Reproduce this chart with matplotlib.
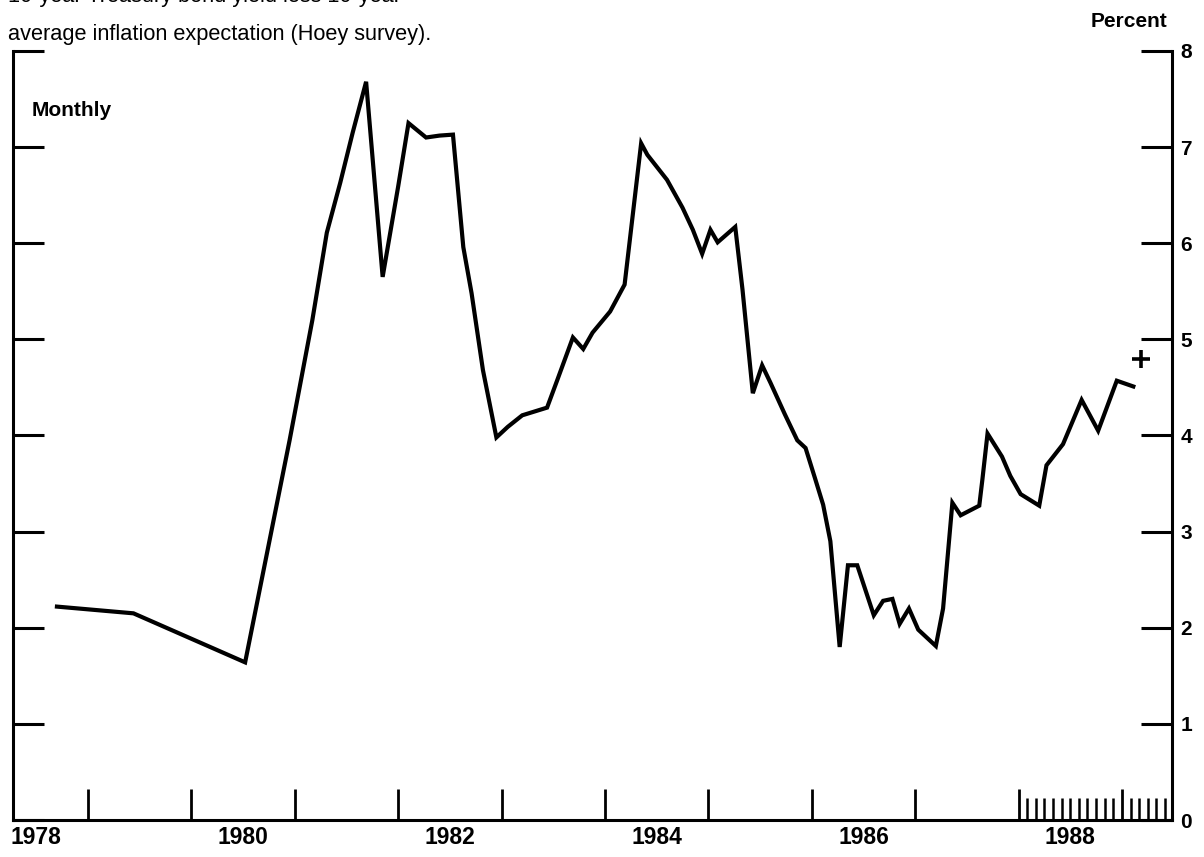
import matplotlib
matplotlib.use("Agg")
import matplotlib.pyplot as plt
from matplotlib.ticker import FixedLocator

plt.rcParams["font.family"] = ["Liberation Sans", "DejaVu Sans"]

years = [1978.70, 1979.44, 1980.52, 1980.95, 1981.17, 1981.31, 1981.44, 1981.56,
         1981.69, 1981.85, 1982.00, 1982.10, 1982.27, 1982.40, 1982.53, 1982.63,
         1982.71, 1982.82, 1982.95, 1983.06, 1983.20, 1983.32, 1983.44, 1983.54,
         1983.69, 1983.79, 1983.88, 1984.05, 1984.19, 1984.35, 1984.41, 1984.60,
         1984.75, 1984.85, 1984.94, 1985.02, 1985.09, 1985.26, 1985.33, 1985.43,
         1985.52, 1985.60, 1985.74, 1985.86, 1985.94, 1986.03, 1986.11, 1986.18,
         1986.27, 1986.35, 1986.44, 1986.60, 1986.69, 1986.78, 1986.85, 1986.94,
         1987.03, 1987.20, 1987.27, 1987.36, 1987.44, 1987.62, 1987.65, 1987.70,
         1987.84, 1987.92, 1988.02, 1988.20, 1988.27, 1988.43, 1988.61, 1988.77,
         1988.95, 1989.11]
spread = [2.22, 2.15, 1.64, 3.95, 5.20, 6.11, 6.63, 7.15,
          7.68, 5.65, 6.59, 7.25, 7.10, 7.12, 7.13, 5.96,
          5.48, 4.68, 3.98, 4.09, 4.21, 4.25, 4.29, 4.58,
          5.02, 4.90, 5.07, 5.29, 5.57, 7.04, 6.92, 6.66,
          6.37, 6.14, 5.89, 6.14, 6.01, 6.17, 5.52, 4.44,
          4.73, 4.55, 4.22, 3.95, 3.87, 3.56, 3.28, 2.90,
          1.80, 2.65, 2.65, 2.13, 2.28, 2.30, 2.04, 2.20,
          1.98, 1.81, 2.20, 3.30, 3.17, 3.27, 3.54, 4.02,
          3.78, 3.58, 3.39, 3.27, 3.69, 3.91, 4.37, 4.05,
          4.57, 4.51]

latest_year = 1989.18
latest_value = 4.80

year_labels = ["1978", "1980", "1982", "1984", "1986", "1988"]
year_ticks = list(range(1979, 1990))
month_ticks = [1988 + m / 12 for m in range(1, 18)]
pct_ticks = list(range(0, 9))

fig = plt.figure(figsize=(12.04, 8.57), dpi=100)
ax = fig.add_axes([13 / 1204, 37 / 857, 1159 / 1204, 769 / 857])

ax.plot(years, spread, color="black", lw=3.0, solid_joinstyle="miter")
ax.plot([latest_year], [latest_value], marker="+", ms=13, mew=2.6, color="black")

ax.set_xlim(1978.275, 1989.484)
ax.set_ylim(0, 8)

ax.spines["top"].set_visible(False)
for s in ["left", "right", "bottom"]:
    ax.spines[s].set_linewidth(2.2)

ax.set_xticks(year_ticks)
ax.set_xticklabels([])
ax.xaxis.set_minor_locator(FixedLocator(month_ticks))
ax.tick_params(axis="x", which="major", direction="in", length=22, width=2.0)
ax.tick_params(axis="x", which="minor", direction="in", length=16, width=1.8)

ax.set_yticks(pct_ticks)
ax.set_yticklabels([str(v) for v in pct_ticks])
ax.yaxis.set_minor_locator(FixedLocator([8]))
ax.tick_params(axis="y", which="both", direction="in", left=True, right=True,
               labelleft=False, labelright=True, pad=6, labelsize=15, width=2.2)
ax.tick_params(axis="y", which="major", length=22)
ax.tick_params(axis="y", which="minor", length=28, labelright=False)
for lbl in ax.get_yticklabels():
    lbl.set_fontweight("bold")

for lab in year_labels:
    ax.text(int(lab) + 0.5, -0.008, lab, transform=ax.get_xaxis_transform(),
            ha="center", va="top", fontsize=16.5, fontweight="bold")

ax.text(19 / 1159, 0.915, "Monthly", transform=ax.transAxes,
        fontsize=15, fontweight="bold", va="baseline")

fig.text(1091 / 1204, 1 - 27 / 857, "Percent", fontsize=15, fontweight="bold",
         va="baseline")
# first title line is clipped by the top edge in the scan
fig.text(8 / 1204, 1 - 2 / 857, "10-year Treasury bond yield less 10-year",
         fontsize=15.7, va="baseline")
fig.text(8 / 1204, 1 - 40 / 857, "average inflation expectation (Hoey survey).",
         fontsize=15.7, va="baseline")

fig.savefig("out.png", dpi=100)
